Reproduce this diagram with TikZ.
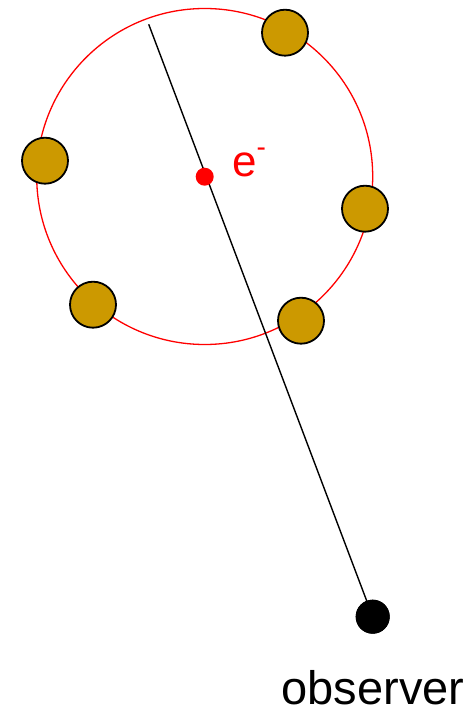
\documentclass[tikz,border=0pt]{standalone}
\usepackage{fontspec}
\setmainfont{Liberation Sans}
\definecolor{gold}{RGB}{204,153,0}
\begin{document}
\begin{tikzpicture}[x=1pt,y=-1pt,
  ball/.style={circle,draw=black,line width=1.8pt,fill=gold,minimum size=46pt,inner sep=0pt},
  orbit/.style={draw=red,line width=1.3pt},
  sightline/.style={draw=black,line width=1.4pt}]
\useasboundingbox (0,0) rectangle (471,708);
\coordinate (c) at (204.7,176.5);
\draw[orbit] (c) circle[radius=168];
\coordinate (top) at (148.7,24.3);
\node[circle,fill=black,minimum size=34pt,inner sep=0pt] (obs) at (372.7,616.7) {};
\draw[sightline] (top) -- (obs.center);
\node[circle,fill=black,minimum size=34pt,inner sep=0pt] at (obs) {};
\node[circle,fill=red,minimum size=18pt,inner sep=0pt] (e) at (204.7,176.7) {};
\node[anchor=base west,inner sep=0pt,text=red,font=\fontsize{44}{44}\selectfont] (el) at (232,176.7) {e\raisebox{0.45em}{\fontsize{28}{28}\selectfont -}};
\node[ball] (b1) at (285,32.7) {};
\node[ball] (b2) at (45,160.7) {};
\node[ball] (b3) at (365,208.7) {};
\node[ball] (b4) at (93,304.7) {};
\node[ball] (b5) at (301,320.7) {};
\node[anchor=base,inner sep=0pt,font=\fontsize{47}{47}\selectfont] (lab) at (373,704.5) {observer};
\end{tikzpicture}
\end{document}
